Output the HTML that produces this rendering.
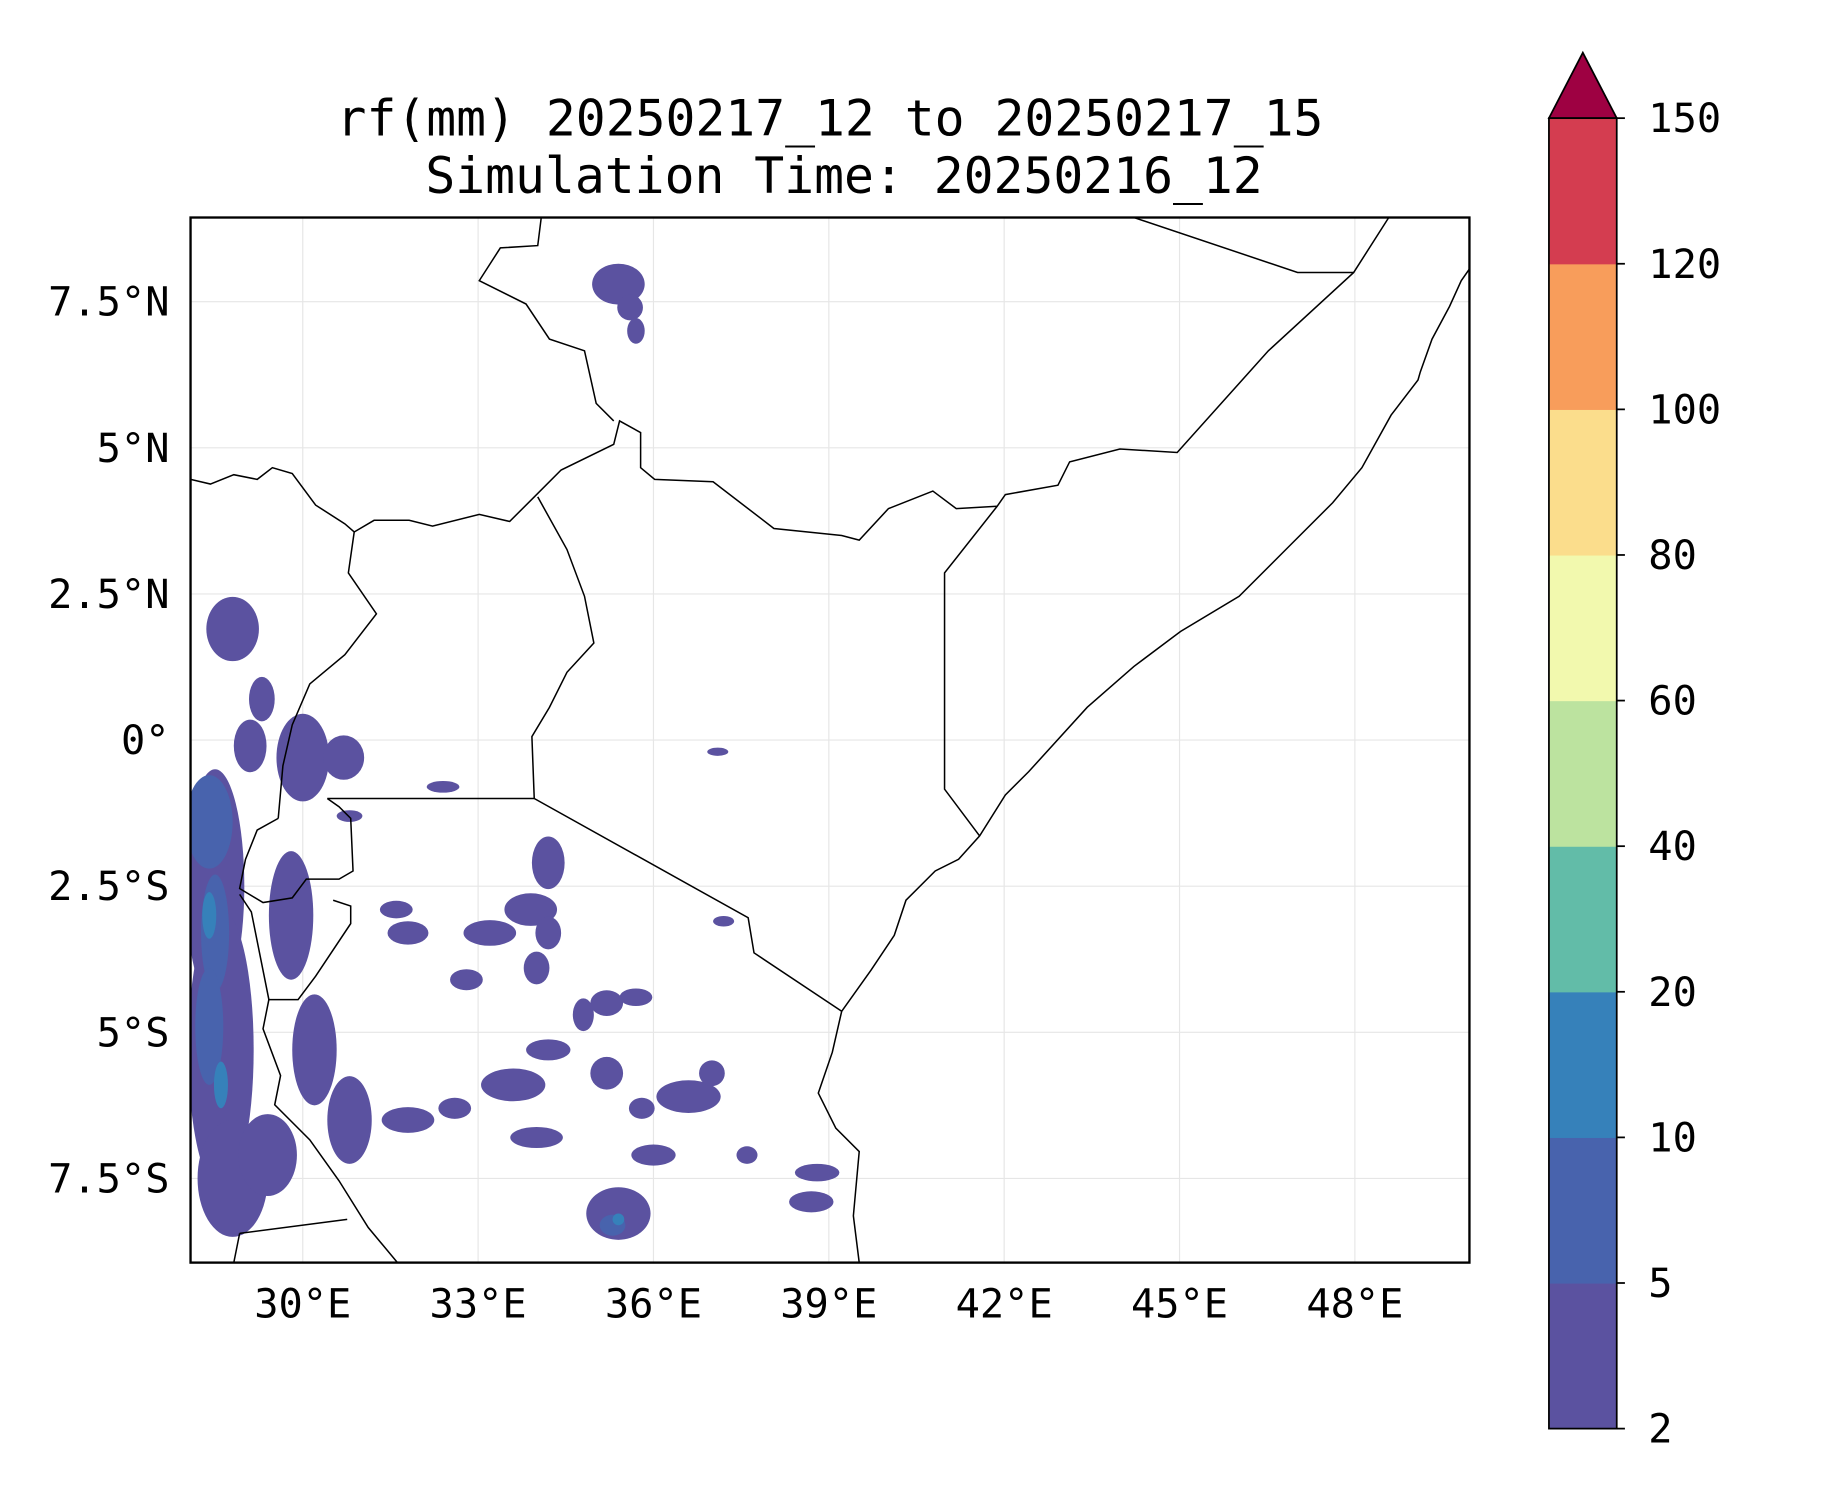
<!DOCTYPE html>
<html><head><meta charset="utf-8"><style>
html,body{margin:0;padding:0;background:#fff;}
svg{display:block;font-family:"DejaVu Sans Mono","Liberation Mono",monospace;}
</style></head><body>
<svg id="fig" width="1833" height="1500" viewBox="0 0 1568 1283" xmlns="http://www.w3.org/2000/svg">
<text x="710" y="116" font-size="42.5" text-anchor="middle">rf(mm) 20250217_12 to 20250217_15</text>
<text x="722" y="165" font-size="42.5" text-anchor="middle">Simulation Time: 20250216_12</text>
<defs><clipPath id="mapclip"><rect x="163" y="186" width="1094" height="894"/></clipPath></defs>
<g id="grid"></g>
<g id="rain" clip-path="url(#mapclip)"></g>
<g id="borders" clip-path="url(#mapclip)" fill="none" stroke="#000" stroke-width="1.3">
<polyline points="1257,230 1250,240 1240,262 1225,290 1215,318 1213,325 1190,355 1165,400 1140,430 1100,470 1060,510 1010,540 970,570 930,605 880,660 860,680 838,715 820,735 800,745 775,770 765,800 745,830 720,865 712,900 700,935 715,965 735,985 730,1040 735,1080"/>
<polyline points="970,186 1110,233 1158,233"/>
<polyline points="1188,186 1158,233 1085,300 1007,387 958,384 915,395 905,415 860,423 853,433 808,490 808,675 838,715"/>
<polyline points="853,433 818,435 798,420 760,435 735,462 720,458 662,452 610,412 560,410 548,400 548,370 530,360 525,380 480,402 457,425 436,446 410,440 370,450 350,445 320,445 303,455 295,448 270,432 250,405 233,400 220,410 200,406 180,414 163,410"/>
<polyline points="463,186 460,210 428,212 410,240 450,260 470,290 500,300 510,345 525,360"/>
<polyline points="460,425 485,470 500,510 508,550 485,575 470,605 455,630 457,683"/>
<polyline points="457,683 640,785 645,815 720,865"/>
<polyline points="280,683 295,683 457,683"/>
<polyline points="303,455 298,490 322,525 295,560 265,585 250,620 242,655 238,700"/>
<polyline points="238,700 220,710 210,735 205,760 225,772 250,768 262,752 290,752 302,745 300,700 290,690 280,683"/>
<polyline points="205,765 215,780 230,855 255,855 270,835 300,790 300,775 285,770"/>
<polyline points="230,855 225,880 240,920 235,945 265,975 290,1010 315,1050 340,1080"/>
<polyline points="205,1055 297,1043"/>
<polyline points="205,1055 200,1080"/>
</g>
<rect x="163" y="186" width="1094" height="894" fill="none" stroke="#000" stroke-width="2"/>
<g id="ticks" font-size="34.5"></g>
<g id="cbar"></g>
</svg>
<script>
const lonTicks=[30,33,36,39,42,45,48];
const latTicks=[7.5,5,2.5,0,-2.5,-5,-7.5];
const latLabels=["7.5°N","5°N","2.5°N","0°","2.5°S","5°S","7.5°S"];
const levels=[2,5,10,20,40,60,80,100,120,150];
const levelColors=["#5b52a0","#4863ad","#3681ba","#62bca8","#bce39f","#f2f9ae","#fbdd8c","#f89d5b","#d43d50"];
const extendColor="#9e0142";
// rainfall blobs: lon, lat, radius lon (deg), radius lat (deg), level index
const blobLon=[28.5,28.6,28.8,28.4,28.5,28.4,29.4,28.8,29.3,29.1,30.0,30.7,29.8,30.2,30.8,35.4,35.6,35.7,34.2,33.9,33.2,31.8,32.8,34.0,34.8,35.2,34.2,33.6,32.6,31.8,34.0,35.2,35.8,36.6,37.0,36.0,37.6,35.4,35.3,35.4,38.8,38.7,37.1,37.2,35.7,34.2,32.4,30.8,31.6,28.4,28.6];
const blobLat=[-2.5,-5.3,-7.5,-1.4,-3.3,-4.9,-7.1,1.9,0.7,-0.1,-0.3,-0.3,-3.0,-5.3,-6.5,7.8,7.4,7.0,-2.1,-2.9,-3.3,-3.3,-4.1,-3.9,-4.7,-4.5,-5.3,-5.9,-6.3,-6.5,-6.8,-5.7,-6.3,-6.1,-5.7,-7.1,-7.1,-8.1,-8.3,-8.2,-7.4,-7.9,-0.2,-3.1,-4.4,-3.3,-0.8,-1.3,-2.9,-3.0,-5.9];
const blobRx=[0.5,0.56,0.6,0.4,0.24,0.24,0.5,0.45,0.22,0.28,0.45,0.35,0.38,0.38,0.38,0.45,0.22,0.15,0.28,0.45,0.45,0.35,0.28,0.22,0.18,0.28,0.38,0.55,0.28,0.45,0.45,0.28,0.22,0.55,0.22,0.38,0.18,0.55,0.22,0.1,0.38,0.38,0.18,0.18,0.28,0.22,0.28,0.22,0.28,0.12,0.12];
const blobRy=[2.0,2.4,1.0,0.8,1.0,1.0,0.7,0.55,0.38,0.45,0.75,0.38,1.1,0.95,0.75,0.35,0.22,0.22,0.45,0.28,0.22,0.2,0.18,0.28,0.28,0.22,0.18,0.28,0.18,0.22,0.18,0.28,0.18,0.28,0.22,0.18,0.15,0.45,0.18,0.1,0.15,0.18,0.07,0.09,0.15,0.28,0.1,0.1,0.15,0.4,0.4];
const blobLevel=[0,0,0,1,1,1,0,0,0,0,0,0,0,0,0,0,0,0,0,0,0,0,0,0,0,0,0,0,0,0,0,0,0,0,0,0,0,0,1,2,0,0,0,0,0,0,0,0,0,2,2];
const NS="http://www.w3.org/2000/svg";
function xS(lon){return 259+(lon-30)*50;}
function yS(lat){return 633-lat*50;}
function mk(tag,attrs,parent){const e=document.createElementNS(NS,tag);for(const k in attrs)e.setAttribute(k,attrs[k]);parent.appendChild(e);return e;}
const grid=document.getElementById('grid'),ticks=document.getElementById('ticks'),rain=document.getElementById('rain'),cbar=document.getElementById('cbar');
lonTicks.forEach(l=>{
  const g=mk('line',{x1:xS(l),x2:xS(l),y1:186,y2:1080,stroke:'#e6e6e6','stroke-width':1},grid);
  
  
  const t=mk('text',{x:xS(l),y:1127,'text-anchor':'middle'},ticks);t.textContent=l+'°E';
  
  
});
latTicks.forEach((l,i)=>{
  const g=mk('line',{x1:163,x2:1257,y1:yS(l),y2:yS(l),stroke:'#e6e6e6','stroke-width':1},grid);
  
  
  const t=mk('text',{x:145,y:yS(l)+12,'text-anchor':'end'},ticks);t.textContent=latLabels[i];
  
  
});
for(let pass=0;pass<3;pass++){
  blobLon.forEach((lon,i)=>{
    if(blobLevel[i]!==pass)return;
    const e=mk('ellipse',{cx:xS(lon),cy:yS(blobLat[i]),rx:blobRx[i]*50,ry:blobRy[i]*50,fill:levelColors[blobLevel[i]]},rain);
    
    
  });
}
const cbX=1325,cbW=58,cbTop=101,cbBot=1222,segH=(cbBot-cbTop)/(levels.length-1);
function cbY(i){return cbBot-i*segH;}
for(let i=0;i<levels.length-1;i++){
  const r=mk('rect',{x:cbX,y:cbY(i+1),width:cbW,height:segH+0.5,fill:levelColors[i]},cbar);
  
  
}
const tri=mk('polygon',{points:cbX+','+cbTop+' '+(cbX+cbW/2)+',45 '+(cbX+cbW)+','+cbTop,fill:extendColor,stroke:'#000','stroke-width':1.5},cbar);


const fr=mk('rect',{x:cbX,y:cbTop,width:cbW,height:cbBot-cbTop,fill:'none',stroke:'#000','stroke-width':1.5},cbar);


levels.forEach((v,i)=>{
  mk('line',{x1:cbX+cbW,x2:cbX+cbW+7,y1:cbY(i),y2:cbY(i),stroke:'#000','stroke-width':1.5},cbar);
  const t=mk('text',{x:1410,y:cbY(i)+12,'font-size':34.5},cbar);t.textContent=v;
  
  
});
</script>
</body></html>
